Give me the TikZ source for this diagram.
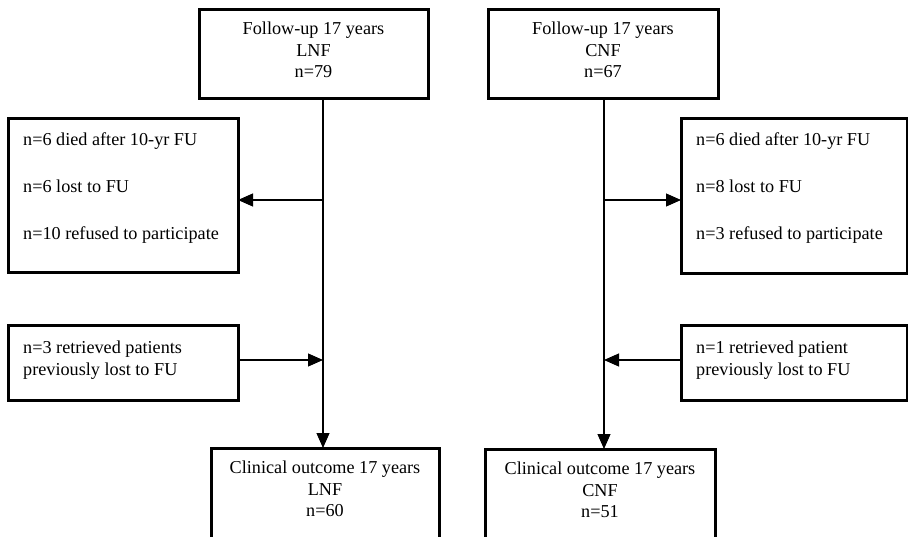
\documentclass[tikz,border=0pt]{standalone}
\usepackage{fontspec}
\setmainfont{Liberation Serif}
\usetikzlibrary{arrows.meta}
\begin{document}
\begin{tikzpicture}[x=1pt,y=-1pt,
  box/.style={draw=black, line width=3pt, inner sep=0pt, outer sep=0pt, anchor=north west},
  lbl/.style={inner sep=0pt, font=\fontsize{18.2}{21.5}\selectfont, align=center},
  sidelbl/.style={inner sep=0pt, font=\fontsize{18.2}{23.5}\selectfont, align=left, anchor=north west},
  conn/.style={line width=1.1pt},
  arr/.style={line width=1.1pt, -{Triangle[length=15pt,width=13pt]}}]
\useasboundingbox (0,0) rectangle (908,536);

% top boxes
\node[box, minimum width=229pt, minimum height=89pt] (tl) at (199,9) {};
\node[lbl] (tlt) at (313.5,50) {Follow-up 17 years\\LNF\\n=79};
\node[box, minimum width=230pt, minimum height=89pt] (tr) at (488,9) {};
\node[lbl] (trt) at (603,50) {Follow-up 17 years\\CNF\\n=67};

% side boxes (exclusions)
\node[box, minimum width=230pt, minimum height=154pt] (sl) at (8,118) {};
\node[sidelbl] (slt) at (23,132.5) {n=6 died after 10-yr FU\\[0pt] \\n=6 lost to FU\\[0pt] \\n=10 refused to participate};
\node[box, minimum width=226pt, minimum height=155pt] (sr) at (681,118) {};
\node[sidelbl] (srt) at (696,132.5) {n=6 died after 10-yr FU\\[0pt] \\n=8 lost to FU\\[0pt] \\n=3 refused to participate};

% retrieved boxes
\node[box, minimum width=230pt, minimum height=75pt] (rl) at (8,325) {};
\node[sidelbl, font=\fontsize{18.2}{22}\selectfont] (rlt) at (23,340.5) {n=3 retrieved patients\\previously lost to FU};
\node[box, minimum width=226pt, minimum height=75pt] (rr) at (681,325) {};
\node[sidelbl, font=\fontsize{18.2}{22}\selectfont] (rrt) at (696,340.5) {n=1 retrieved patient\\previously lost to FU};

% bottom boxes
\node[box, minimum width=228pt, minimum height=97pt] (bl) at (211,448) {};
\node[lbl] (blt) at (325,489) {Clinical outcome 17 years\\LNF\\n=60};
\node[box, minimum width=230pt, minimum height=96pt] (br) at (485,449) {};
\node[lbl] (brt) at (600,490) {Clinical outcome 17 years\\CNF\\n=51};

% connectors
\coordinate (lx) at (323,0);
\coordinate (rx) at (604,0);
\draw[arr] (tl.south -| lx) -- (bl.north -| lx);
\draw[arr] (tr.south -| rx) -- (br.north -| rx);

\coordinate (la) at (323,200);
\coordinate (ra) at (604,200);
\draw[arr] (la) -- (la -| sl.east);
\draw[arr] (ra) -- (ra -| sr.west);

\coordinate (lr) at (323,360);
\coordinate (rr2) at (604,360);
\draw[arr] (lr -| rl.east) -- (lr);
\draw[arr] (rr2 -| rr.west) -- (rr2);
\end{tikzpicture}
\end{document}
